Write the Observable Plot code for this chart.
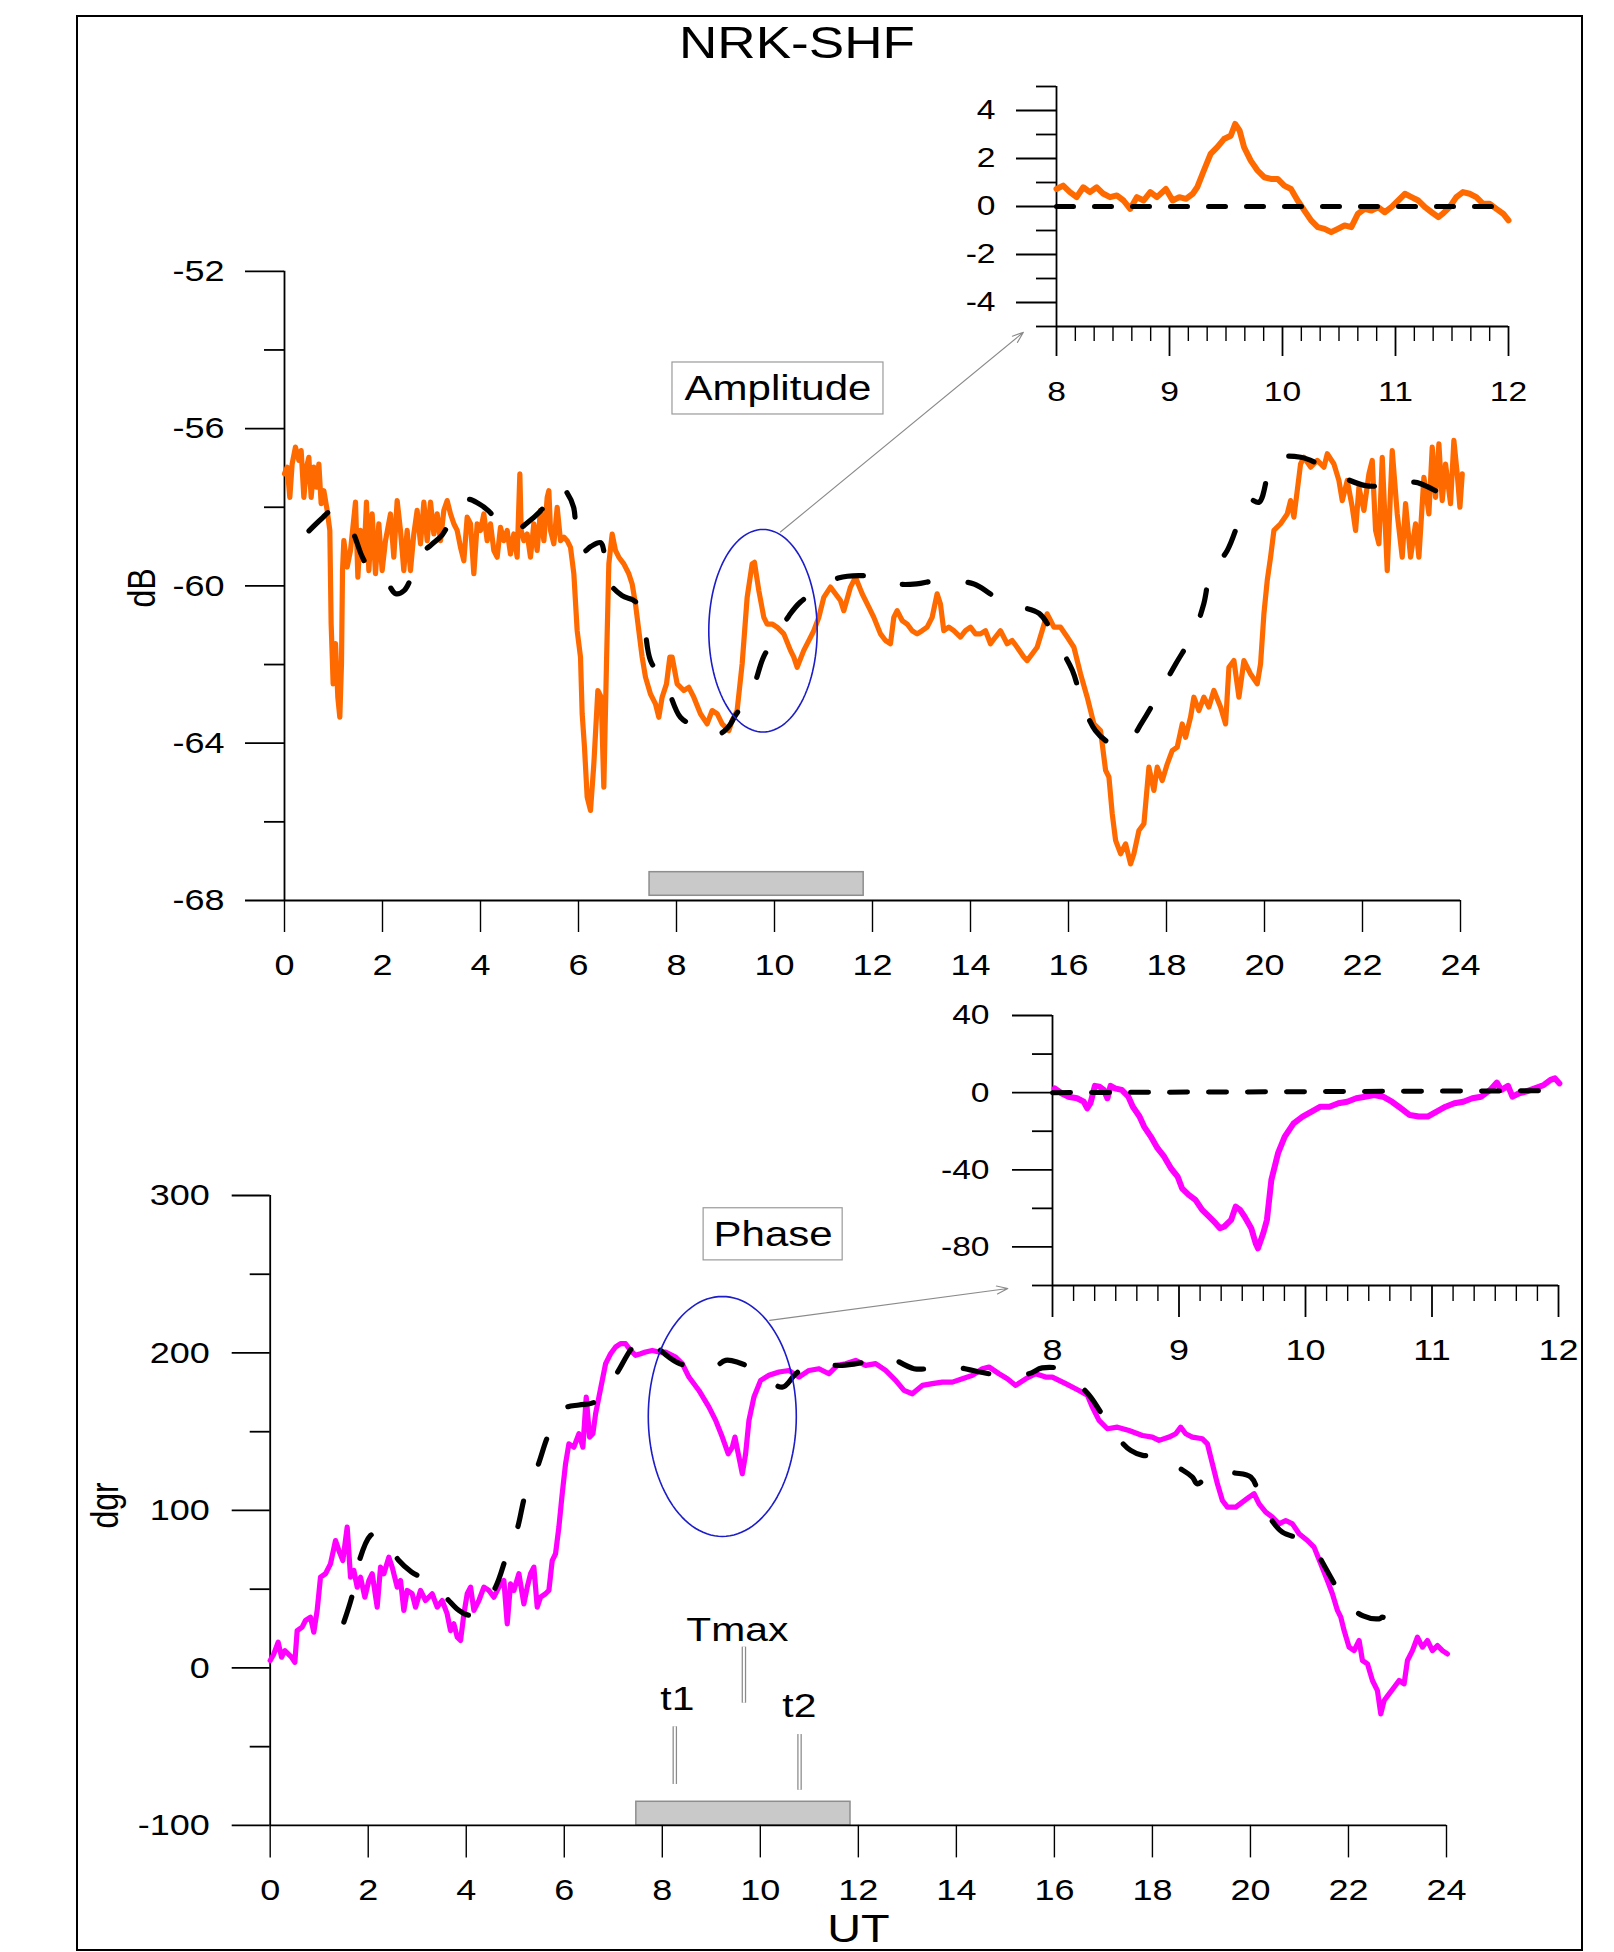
<!DOCTYPE html>
<html>
<head>
<meta charset="utf-8">
<script src="https://cdn.jsdelivr.net/npm/d3@7"></script>
<script src="https://cdn.jsdelivr.net/npm/@observablehq/plot@0.6"></script>
<style>
html, body { margin: 0; padding: 0; background: #fff; }
#fig { position: relative; width: 1614px; height: 1952px; overflow: hidden; background: #fff;
       font-family: "Liberation Sans", Arial, Helvetica, sans-serif; }
#frame { position: absolute; left: 76px; top: 15px; width: 1507px; height: 1936px;
         border: 2px solid #000; box-sizing: border-box; }
#title { position: absolute; left: 397px; top: 19.6px; width: 800px; text-align: center;
         font-size: 45px; line-height: 45px; color: #000; transform: scaleX(1.18); transform-origin: 50% 50%; }
</style>
</head>
<body>
<div id="fig">
  <div id="frame"></div>
  <div id="title">NRK-SHF</div>
</div>
<script>
// ---------------- tick values ----------------
const hourTicks = [0, 2, 4, 6, 8, 10, 12, 14, 16, 18, 20, 22, 24];
const ampTicksMajor = [-68, -64, -60, -56, -52];
const ampTicksMinor = [-66, -62, -58, -54];
const phaseTicksMajor = [-100, 0, 100, 200, 300];
const phaseTicksMinor = [-50, 50, 150, 250];
const insetHourTicks = [8, 9, 10, 11, 12];
const insetMinuteTicks = d3.range(0, 25).filter(i => i % 6 !== 0).map(i => 8 + i / 6);
const ampInsetYMajor = [-4, -2, 0, 2, 4];
const ampInsetYMinor = [-5, -3, -1, 1, 3, 5];
const phaseInsetYMajor = [-80, -40, 0, 40];
const phaseInsetYMinor = [-100, -60, -20, 20];

// ---------------- amplitude (dB) vs UT (h) ----------------
const ampObs = [
[0.000,-57.15],[0.054,-56.98],[0.109,-57.75],[0.156,-56.90],[0.224,-56.47],[0.293,-56.81],[0.340,-56.56],[0.395,-57.75],
[0.449,-56.98],[0.497,-56.73],[0.544,-57.75],[0.599,-56.98],[0.653,-57.49],[0.701,-56.90],[0.748,-57.91],[0.803,-57.58],
[0.871,-58.08],[0.925,-58.59],[0.952,-60.97],[0.993,-62.49],[1.041,-61.47],[1.088,-62.83],[1.129,-63.34],[1.163,-61.98],
[1.184,-59.61],[1.211,-58.85],[1.279,-59.52],[1.347,-59.10],[1.449,-57.87],[1.497,-59.78],[1.551,-58.59],[1.619,-59.36],
[1.673,-57.87],[1.721,-59.61],[1.789,-58.17],[1.857,-59.69],[1.925,-58.42],[1.993,-59.61],[2.061,-58.85],[2.163,-58.17],
[2.231,-59.27],[2.299,-57.83],[2.367,-58.59],[2.435,-59.61],[2.503,-58.59],[2.571,-59.61],[2.639,-58.68],[2.707,-58.08],
[2.776,-58.93],[2.844,-57.87],[2.912,-58.85],[2.980,-57.87],[3.048,-58.68],[3.116,-58.17],[3.184,-58.85],[3.252,-58.08],
[3.320,-57.83],[3.388,-58.17],[3.456,-58.42],[3.524,-58.59],[3.592,-59.02],[3.660,-59.36],[3.728,-58.25],[3.796,-58.42],
[3.864,-59.69],[3.932,-58.42],[4.000,-58.59],[4.068,-58.17],[4.136,-58.85],[4.204,-58.42],[4.272,-59.10],[4.340,-59.27],
[4.408,-58.51],[4.476,-58.85],[4.544,-58.59],[4.612,-59.19],[4.680,-58.68],[4.748,-59.27],[4.803,-57.15],[4.830,-58.59],
[4.884,-58.85],[4.952,-58.68],[5.020,-59.27],[5.088,-58.42],[5.156,-59.10],[5.224,-58.08],[5.293,-58.85],[5.361,-57.75],
[5.395,-57.58],[5.429,-58.59],[5.497,-58.93],[5.565,-58.00],[5.633,-58.85],[5.701,-58.76],[5.769,-58.85],[5.837,-59.02],
[5.905,-59.69],[5.973,-61.14],[6.041,-61.81],[6.075,-63.25],[6.122,-64.10],[6.177,-65.37],[6.245,-65.71],[6.313,-64.53],
[6.395,-62.66],[6.463,-62.83],[6.517,-65.12],[6.571,-61.98],[6.619,-59.44],[6.687,-58.68],[6.755,-59.10],[6.823,-59.27],
[6.925,-59.44],[7.027,-59.69],[7.095,-59.95],[7.163,-60.46],[7.231,-61.14],[7.299,-61.81],[7.367,-62.32],[7.469,-62.75],
[7.571,-63.00],[7.639,-63.34],[7.707,-62.83],[7.796,-62.49],[7.864,-61.81],[7.911,-61.81],[8.013,-62.49],[8.149,-62.66],
[8.251,-62.58],[8.353,-62.83],[8.489,-63.25],[8.625,-63.51],[8.727,-63.17],[8.829,-63.25],[8.931,-63.51],[9.068,-63.68],
[9.136,-63.42],[9.237,-63.17],[9.340,-61.98],[9.442,-60.29],[9.544,-59.44],[9.591,-59.40],[9.680,-60.12],[9.782,-60.80],
[9.850,-60.97],[9.952,-60.97],[10.054,-61.05],[10.190,-61.22],[10.326,-61.64],[10.394,-61.81],[10.462,-62.07],[10.598,-61.64],
[10.700,-61.39],[10.802,-61.14],[10.904,-60.80],[11.006,-60.29],[11.142,-60.03],[11.244,-60.20],[11.346,-60.37],[11.414,-60.63],
[11.551,-60.03],[11.653,-59.78],[11.789,-60.20],[11.925,-60.54],[12.027,-60.80],[12.163,-61.22],[12.265,-61.39],[12.367,-61.47],
[12.435,-60.80],[12.503,-60.63],[12.605,-60.88],[12.707,-60.97],[12.809,-61.14],[12.911,-61.22],[13.013,-61.14],[13.115,-61.05],
[13.217,-60.80],[13.319,-60.20],[13.387,-60.46],[13.455,-61.14],[13.557,-61.05],[13.659,-61.14],[13.795,-61.30],[13.897,-61.14],
[13.999,-61.05],[14.102,-61.22],[14.204,-61.22],[14.306,-61.14],[14.408,-61.47],[14.510,-61.30],[14.612,-61.14],[14.748,-61.47],
[14.850,-61.39],[14.952,-61.56],[15.088,-61.81],[15.156,-61.90],[15.258,-61.73],[15.360,-61.56],[15.462,-61.14],[15.564,-60.71],
[15.634,-60.88],[15.702,-61.05],[15.838,-61.05],[15.974,-61.30],[16.110,-61.56],[16.246,-62.24],[16.382,-62.83],[16.518,-63.51],
[16.654,-63.68],[16.757,-64.69],[16.825,-64.86],[16.893,-65.80],[16.961,-66.47],[17.063,-66.81],[17.165,-66.56],[17.267,-67.07],
[17.335,-66.81],[17.437,-66.22],[17.539,-66.05],[17.641,-64.61],[17.743,-65.20],[17.811,-64.61],[17.913,-64.95],[18.015,-64.53],
[18.117,-64.19],[18.219,-64.10],[18.321,-63.51],[18.389,-63.85],[18.491,-63.34],[18.559,-62.83],[18.661,-63.17],[18.763,-62.83],
[18.865,-63.08],[18.967,-62.66],[19.103,-63.08],[19.206,-63.51],[19.274,-62.07],[19.376,-61.90],[19.478,-62.83],[19.580,-61.90],
[19.716,-62.24],[19.852,-62.49],[19.920,-61.98],[19.988,-60.71],[20.056,-59.86],[20.124,-59.27],[20.192,-58.59],[20.328,-58.42],
[20.464,-58.17],[20.532,-57.83],[20.600,-58.25],[20.668,-57.58],[20.736,-56.90],[20.804,-56.73],[20.941,-56.98],[21.077,-56.81],
[21.213,-56.98],[21.281,-56.64],[21.417,-56.90],[21.519,-57.32],[21.587,-57.83],[21.689,-57.32],[21.791,-58.00],[21.859,-58.59],
[21.927,-57.49],[22.029,-58.08],[22.131,-57.15],[22.199,-56.81],[22.267,-58.59],[22.335,-58.93],[22.403,-56.73],[22.505,-59.61],
[22.607,-56.56],[22.709,-58.17],[22.811,-59.27],[22.879,-57.91],[22.981,-59.27],[23.083,-58.42],[23.151,-59.27],[23.253,-57.24],
[23.355,-58.17],[23.423,-56.47],[23.491,-57.75],[23.559,-56.39],[23.627,-57.83],[23.695,-56.90],[23.797,-57.91],[23.865,-56.30],
[23.933,-57.15],[23.988,-58.00],[24.036,-57.15]
];
const ampRef = [
[0.50,-58.60],[0.75,-58.30],[0.94,-58.10],[1.10,-58.15],[1.38,-58.60],[1.59,-59.27],[1.80,-59.70],[2.06,-59.86],[2.27,-60.20],
[2.44,-60.12],[2.60,-59.75],[2.78,-59.20],[3.00,-58.95],[3.22,-58.70],[3.45,-58.20],[3.63,-57.90],[3.75,-57.80],[3.95,-57.90],
[4.17,-58.10],[4.45,-58.50],[4.71,-58.60],[4.95,-58.40],[5.22,-58.10],[5.45,-57.75],[5.63,-57.45],[5.75,-57.60],[5.90,-58.00],
[5.95,-58.70],[6.00,-59.05],[6.12,-59.12],[6.25,-59.00],[6.45,-58.90],[6.55,-59.40],[6.62,-59.90],[6.89,-60.25],[7.16,-60.40],
[7.33,-60.95],[7.47,-61.90],[7.78,-62.50],[8.08,-63.34],[8.35,-63.55],[8.63,-63.72],[8.85,-63.78],[9.05,-63.60],[9.20,-63.30],
[9.54,-62.66],[9.78,-61.80],[10.09,-61.18],[10.30,-60.75],[10.53,-60.41],[11.07,-59.95],[11.30,-59.80],[11.82,-59.74],[12.10,-59.80],
[12.50,-59.95],[12.90,-59.95],[13.35,-59.86],[14.07,-59.95],[14.40,-60.20],[14.75,-60.46],[15.40,-60.70],[15.74,-61.39],[16.08,-62.15],
[16.28,-62.96],[16.55,-63.68],[16.85,-64.00],[17.16,-64.06],[17.50,-63.47],[17.88,-62.66],[18.19,-61.98],[18.56,-61.18],[18.76,-60.46],
[18.90,-59.69],[19.24,-59.10],[19.51,-58.25],[19.68,-57.80],[19.89,-57.87],[20.12,-56.98],[20.33,-56.73],[20.74,-56.73],[21.10,-56.90],
[21.45,-57.15],[22.06,-57.45],[22.50,-57.45],[22.85,-57.45],[23.05,-57.36],[23.49,-57.58]
];
const ampInsetObs = [
[8.000,0.73],[8.059,0.87],[8.119,0.60],[8.178,0.39],[8.237,0.80],[8.296,0.60],[8.356,0.80],[8.415,0.53],[8.474,0.39],[8.534,0.46],
[8.593,0.25],[8.652,-0.10],[8.711,0.39],[8.771,0.25],[8.830,0.60],[8.889,0.39],[8.968,0.73],[9.028,0.25],[9.087,0.39],[9.146,0.32],
[9.206,0.53],[9.245,0.80],[9.304,1.50],[9.364,2.19],[9.423,2.47],[9.482,2.81],[9.542,2.95],[9.581,3.44],[9.621,3.16],[9.660,2.47],
[9.719,1.91],[9.779,1.50],[9.838,1.22],[9.897,1.15],[9.957,1.15],[10.016,0.87],[10.075,0.73],[10.134,0.25],[10.194,-0.17],[10.253,-0.58],
[10.312,-0.86],[10.372,-0.93],[10.431,-1.07],[10.490,-0.93],[10.549,-0.79],[10.609,-0.86],[10.668,-0.30],[10.727,-0.10],[10.787,-0.17],
[10.846,-0.03],[10.905,-0.24],[10.964,-0.03],[11.024,0.25],[11.083,0.53],[11.142,0.39],[11.202,0.25],[11.261,-0.03],[11.320,-0.24],
[11.379,-0.44],[11.419,-0.30],[11.478,-0.03],[11.538,0.39],[11.597,0.60],[11.656,0.53],[11.715,0.39],[11.775,0.11],[11.834,0.11],
[11.893,-0.10],[11.953,-0.30],[12.000,-0.58]
];
const ampInsetRef = [[8.0, 0], [12.0, 0]];

// ---------------- phase (dgr) vs UT (h) ----------------
const phaseObs = [
[0.000,4.7],[0.074,8.9],[0.163,16.3],[0.231,6.8],[0.299,11.0],[0.367,8.9],[0.435,6.8],[0.503,3.6],[0.550,23.7],[0.652,25.9],
[0.720,30.1],[0.822,32.2],[0.890,22.7],[0.958,36.5],[1.026,57.6],[1.128,59.8],[1.230,66.1],[1.333,80.9],[1.401,74.6],[1.482,68.2],
[1.571,89.4],[1.639,57.6],[1.707,61.9],[1.775,51.3],[1.843,57.6],[1.931,44.9],[2.013,55.5],[2.081,59.8],[2.183,38.6],[2.251,64.0],
[2.319,59.8],[2.421,70.3],[2.489,64.0],[2.591,51.3],[2.659,55.5],[2.727,36.5],[2.795,49.2],[2.897,47.1],[2.965,38.6],[3.067,49.2],
[3.169,42.8],[3.305,47.1],[3.407,38.6],[3.509,42.8],[3.611,34.3],[3.679,23.7],[3.747,28.0],[3.816,19.5],[3.884,17.4],[3.952,34.3],
[4.020,47.1],[4.088,51.3],[4.156,36.5],[4.258,42.8],[4.360,51.3],[4.462,49.2],[4.564,44.9],[4.666,51.3],[4.768,55.5],[4.836,28.0],
[4.904,53.4],[4.972,49.2],[5.074,59.8],[5.176,40.7],[5.244,51.3],[5.312,59.8],[5.380,64.0],[5.448,38.6],[5.516,44.9],[5.618,47.1],
[5.686,49.2],[5.754,68.2],[5.822,72.5],[5.890,89.4],[5.958,110.6],[6.026,129.6],[6.094,142.3],[6.196,140.2],[6.299,148.7],[6.380,140.2],
[6.448,172.0],[6.516,146.6],[6.584,148.7],[6.639,161.4],[6.707,172.0],[6.775,182.6],[6.843,193.2],[6.945,199.5],[7.047,203.8],[7.149,205.9],
[7.251,205.9],[7.353,201.6],[7.455,198.5],[7.557,199.5],[7.659,200.6],[7.795,201.6],[7.932,200.6],[8.067,200.6],[8.271,197.4],[8.407,193.2],
[8.543,184.7],[8.747,176.2],[8.952,165.6],[9.088,157.2],[9.224,146.6],[9.346,136.0],[9.428,140.2],[9.482,146.6],[9.550,136.0],[9.632,123.3],
[9.700,136.0],[9.768,157.2],[9.870,172.0],[10.006,182.6],[10.176,185.8],[10.380,187.9],[10.584,188.9],[10.788,184.7],[10.992,188.9],
[11.196,190.0],[11.401,186.8],[11.571,192.1],[11.741,193.2],[11.945,195.3],[12.149,192.1],[12.353,193.2],[12.557,188.9],[12.761,182.6],
[12.931,176.2],[13.101,174.1],[13.305,179.4],[13.509,180.5],[13.713,181.5],[13.918,181.5],[14.122,183.6],[14.326,185.8],[14.530,190.0],
[14.666,191.1],[14.870,186.8],[15.040,183.6],[15.210,179.4],[15.414,183.6],[15.618,186.8],[15.822,184.7],[15.958,184.7],[16.230,180.5],
[16.502,176.2],[16.673,173.1],[16.775,165.6],[16.911,157.2],[17.081,151.9],[17.285,152.9],[17.523,150.8],[17.795,147.6],[17.999,146.6],
[18.135,144.5],[18.339,146.6],[18.475,148.7],[18.577,152.9],[18.679,148.7],[18.815,146.6],[19.020,145.5],[19.122,142.3],[19.224,129.6],
[19.326,116.9],[19.428,106.3],[19.530,102.1],[19.700,102.1],[19.836,105.3],[19.972,108.5],[20.074,110.6],[20.176,104.2],[20.312,98.9],
[20.448,95.8],[20.584,91.5],[20.720,93.6],[20.856,91.5],[20.992,85.2],[21.162,80.9],[21.298,76.7],[21.434,66.1],[21.570,55.5],[21.672,47.1],
[21.775,36.5],[21.843,32.2],[21.911,23.7],[22.013,13.2],[22.115,11.0],[22.217,17.4],[22.285,4.7],[22.387,2.6],[22.489,-8.0],[22.591,-14.4],
[22.659,-29.2],[22.727,-20.7],[22.829,-16.5],[22.931,-12.3],[23.033,-8.0],[23.135,-10.1],[23.203,4.7],[23.305,11.0],[23.407,19.5],
[23.509,13.2],[23.611,17.4],[23.713,11.0],[23.815,14.2],[23.917,11.0],[24.019,8.9]
];
const phaseRef = [
[1.503,29.1],[1.673,46.0],[1.809,67.2],[2.047,84.1],[2.200,86.0],[2.353,80.9],[2.625,68.2],[2.880,61.0],[3.135,56.6],[3.350,52.0],
[3.611,43.9],[3.850,36.5],[4.050,33.5],[4.258,35.4],[4.598,51.3],[4.836,72.5],[5.040,88.3],[5.210,110.6],[5.450,127.5],[5.686,148.7],
[5.990,164.6],[6.300,167.0],[6.550,168.0],[6.740,171.0],[7.047,185.8],[7.455,205.9],[7.700,210.0],[7.965,201.6],[8.300,194.0],
[8.645,191.1],[9.020,190.0],[9.290,195.3],[9.550,194.0],[9.904,188.9],[10.448,178.3],[10.700,186.0],[10.958,192.1],[11.300,192.5],
[11.673,192.1],[12.100,194.0],[12.489,196.3],[12.600,197.5],[13.135,190.0],[13.550,190.5],[13.950,191.1],[14.666,186.8],[15.100,186.0],
[15.480,186.8],[15.750,190.5],[16.160,189.5],[16.500,180.0],[16.740,172.0],[17.050,157.2],[17.300,146.0],[17.556,138.1],[17.800,135.0],
[18.170,135.0],[18.500,128.0],[18.815,121.2],[18.917,116.9],[19.290,126.5],[19.650,124.0],[20.006,121.2],[20.244,104.2],[20.450,93.0],
[20.652,86.2],[21.265,78.8],[21.450,68.0],[21.638,57.6],[21.944,41.7],[22.300,33.0],[22.625,31.2],[22.700,32.2],[23.090,21.6]
];
const phaseInsetObs = [
[8.018,2.2],[8.071,-0.3],[8.124,-2.1],[8.194,-2.9],[8.247,-4.7],[8.275,-8.1],[8.300,-5.5],[8.335,3.5],[8.371,3.1],[8.406,1.4],
[8.434,-2.9],[8.459,3.5],[8.494,2.2],[8.547,1.4],[8.600,-2.1],[8.635,-7.3],[8.688,-12.4],[8.724,-17.6],[8.777,-22.8],[8.830,-28.8],
[8.883,-33.2],[8.936,-39.2],[8.989,-43.5],[9.024,-49.6],[9.077,-53.0],[9.130,-55.6],[9.183,-60.8],[9.236,-64.2],[9.289,-67.7],
[9.324,-70.3],[9.359,-69.4],[9.412,-66.0],[9.448,-59.1],[9.483,-60.8],[9.518,-64.2],[9.571,-70.3],[9.606,-78.1],[9.624,-80.7],
[9.666,-72.9],[9.695,-66.0],[9.730,-45.3],[9.783,-31.4],[9.836,-22.8],[9.906,-15.9],[9.977,-12.4],[10.048,-9.8],[10.118,-7.3],
[10.189,-7.3],[10.260,-5.5],[10.330,-4.7],[10.401,-2.9],[10.471,-2.1],[10.542,-1.2],[10.613,-2.1],[10.683,-4.7],[10.754,-8.1],
[10.824,-11.6],[10.895,-12.4],[10.966,-12.4],[11.036,-9.8],[11.107,-7.3],[11.177,-5.5],[11.248,-4.7],[11.319,-2.9],[11.389,-2.1],
[11.460,1.4],[11.513,5.2],[11.548,1.4],[11.601,3.5],[11.636,-2.1],[11.689,-0.3],[11.742,0.5],[11.813,2.2],[11.884,4.0],[11.937,6.6],
[11.972,7.4],[12.007,4.8]
];
const phaseInsetRef = [[8.0, 0], [11.9, 1]];

// ---------------- annotations (data units) ----------------
const ampBar = [{x1: 7.45, x2: 11.82, y1: -67.88, y2: -67.28}];
const phaseBar = [{x1: 7.47, x2: 11.84, y1: -100, y2: -85}];
const ampEllipse = {cx: 9.765, cy: -61.14, rx: 1.106, ry: 2.576};
const phaseEllipse = {cx: 9.224, cy: 159.7, rx: 1.51, ry: 76.2};
const ampArrow = [{x1: 10.12, y1: -58.63, x2: 15.08, y2: -53.55}];
const phaseArrow = [{x1: 10.19, y1: 220.7, x2: 15.05, y2: 240.9}];
const ampLabel = [{text: "Amplitude", x: 10.071, y: -54.98, x1: 7.918, x2: 12.224, y1: -55.641, y2: -54.319}];
const phaseLabel = [{text: "Phase", x: 10.261, y: 275.3, x1: 8.843, x2: 11.680, y1: 258.8, y2: 291.9}];
const timeMarks = [
  {name: "t1", x: 8.255, y1: -74.0, y2: -37.4, lx: 8.306, ly: -19.7},
  {name: "Tmax", x: 9.665, y1: -22.4, y2: 13.2, lx: 9.531, ly: 24.3},
  {name: "t2", x: 10.800, y1: -77.7, y2: -42.3, lx: 10.796, ly: -24.0}
];

// ---------------- styling ----------------
const FONT = '"Liberation Sans", Arial, Helvetica, sans-serif';
const ORANGE = "#ff6a00";
const MAGENTA = "#ff00ff";
const BLUE = "#1c1cc8";
const STRETCH = 1.2;
const AX = 1.8;
const X = d => d[0], Y = d => d[1];
const fmt = d => String(d);

function ellipsePts(e) {
  return d3.range(0, 361, 3).map(a => [e.cx + e.rx * Math.cos(a * Math.PI / 180), e.cy + e.ry * Math.sin(a * Math.PI / 180)]);
}
const baseStyle = {background: "transparent", overflow: "visible", fontFamily: FONT, color: "#000"};

const fig = document.getElementById("fig");
function mount(svg, left, top) {
  svg.style.position = "absolute";
  svg.style.left = left + "px";
  svg.style.top = top + "px";
  svg.style.maxWidth = "none";
  fig.appendChild(svg);
  svg.querySelectorAll("text").forEach(t => {
    const tr = t.getAttribute("transform") || "";
    if (tr.includes("rotate")) {
      t.setAttribute("transform", tr + ` scale(1,${STRETCH})`);
      return;
    }
    const len = t.getComputedTextLength();
    if (len > 0) {
      t.setAttribute("textLength", (len * STRETCH).toFixed(2));
      t.setAttribute("lengthAdjust", "spacingAndGlyphs");
    }
  });
}

// ---------------- main amplitude ----------------
const ampMain = Plot.plot({
  width: 1614, height: 810,
  marginLeft: 284, marginRight: 154, marginTop: 70.8, marginBottom: 110,
  x: {domain: [0, 24], axis: null},
  y: {domain: [-68, -52], axis: null},
  style: baseStyle,
  marks: [
    Plot.rect(ampBar, {x1: "x1", x2: "x2", y1: "y1", y2: "y2", fill: "#c9c9c9", stroke: "#8e8e8e", strokeWidth: 1.5}),
    Plot.ruleX([0], {stroke: "#000", strokeWidth: AX}),
    Plot.ruleY([-68], {stroke: "#000", strokeWidth: AX}),
    Plot.axisY(ampTicksMajor, {tickSize: 39, tickPadding: 21, fontSize: 30, tickFormat: fmt, strokeWidth: AX, label: null}),
    Plot.axisY(ampTicksMinor, {tickSize: 20, tickFormat: () => "", strokeWidth: AX, label: null}),
    Plot.axisX(hourTicks, {tickSize: 32, tickPadding: 21, fontSize: 30, tickFormat: fmt, strokeWidth: 1.4, label: null}),
    Plot.line(ampObs, {x: X, y: Y, stroke: ORANGE, strokeWidth: 5.2, strokeLinejoin: "round"}),
    Plot.line(ampRef, {x: X, y: Y, stroke: "#000", strokeWidth: 5.2, strokeDasharray: "26,40", strokeLinecap: "round", curve: "catmull-rom"}),
    Plot.line(ellipsePts(ampEllipse), {x: X, y: Y, stroke: BLUE, strokeWidth: 1.6}),
    Plot.arrow(ampArrow, {x1: "x1", y1: "y1", x2: "x2", y2: "y2", stroke: "#8a8a8a", strokeWidth: 1.1, headLength: 16, headAngle: 40}),
    Plot.rect(ampLabel, {x1: "x1", x2: "x2", y1: "y1", y2: "y2", fill: "#fff", stroke: "#9a9a9a", strokeWidth: 1.2}),
    Plot.text(ampLabel, {x: "x", y: "y", text: "text", fontSize: 35, fill: "#000"}),
    Plot.text(["dB"], {frameAnchor: "left", textAnchor: "middle", lineAnchor: "middle", dx: -142, dy: 2, rotate: -90, fontSize: 32, fill: "#000"})
  ]
});
mount(ampMain, 0, 200);

// ---------------- amplitude inset ----------------
const ampInset = Plot.plot({
  width: 600, height: 360,
  marginLeft: 96, marginRight: 52, marginTop: 26, marginBottom: 94,
  x: {domain: [8, 12], axis: null},
  y: {domain: [-5, 5], axis: null},
  style: baseStyle,
  marks: [
    Plot.ruleX([8], {stroke: "#000", strokeWidth: AX}),
    Plot.ruleY([-5], {stroke: "#000", strokeWidth: AX}),
    Plot.axisY(ampInsetYMajor, {tickSize: 40, tickPadding: 21, fontSize: 28, tickFormat: fmt, strokeWidth: AX, label: null}),
    Plot.axisY(ampInsetYMinor, {tickSize: 20, tickFormat: () => "", strokeWidth: AX, label: null}),
    Plot.axisX(insetHourTicks, {tickSize: 30, tickPadding: 25, fontSize: 28, tickFormat: fmt, strokeWidth: AX, label: null}),
    Plot.axisX(insetMinuteTicks, {tickSize: 15, tickFormat: () => "", strokeWidth: 1.4, label: null}),
    Plot.line(ampInsetObs, {x: X, y: Y, stroke: ORANGE, strokeWidth: 6, strokeLinejoin: "round"}),
    Plot.line(ampInsetRef, {x: X, y: Y, stroke: "#000", strokeWidth: 5, strokeDasharray: "17,21"})
  ]
});
mount(ampInset, 960, 60);

// ---------------- main phase ----------------
const phaseMain = Plot.plot({
  width: 1614, height: 802,
  marginLeft: 269.7, marginRight: 168, marginTop: 45, marginBottom: 127.1,
  x: {domain: [0, 24], axis: null},
  y: {domain: [-100, 300], axis: null},
  style: baseStyle,
  marks: [
    Plot.rect(phaseBar, {x1: "x1", x2: "x2", y1: "y1", y2: "y2", fill: "#c9c9c9", stroke: "#8e8e8e", strokeWidth: 1.5}),
    Plot.ruleX([0], {stroke: "#000", strokeWidth: AX}),
    Plot.ruleY([-100], {stroke: "#000", strokeWidth: AX}),
    Plot.axisY(phaseTicksMajor, {tickSize: 38, tickPadding: 22.5, fontSize: 30, tickFormat: fmt, strokeWidth: AX, label: null}),
    Plot.axisY(phaseTicksMinor, {tickSize: 20, tickFormat: () => "", strokeWidth: AX, label: null}),
    Plot.axisX(hourTicks, {tickSize: 32.5, tickPadding: 21, fontSize: 30, tickFormat: fmt, strokeWidth: 1.4, label: null}),
    Plot.ruleX(timeMarks, {x: "x", y1: "y1", y2: "y2", stroke: "#8a8a8a", strokeWidth: 4.5}),
    Plot.ruleX(timeMarks, {x: "x", y1: "y1", y2: "y2", stroke: "#fff", strokeWidth: 2}),
    Plot.text(timeMarks, {x: "lx", y: "ly", text: "name", fontSize: 34, fill: "#000"}),
    Plot.line(phaseObs, {x: X, y: Y, stroke: MAGENTA, strokeWidth: 5.2, strokeLinejoin: "round"}),
    Plot.line(phaseRef, {x: X, y: Y, stroke: "#000", strokeWidth: 5.2, strokeDasharray: "26,40", strokeLinecap: "round", curve: "catmull-rom"}),
    Plot.line(ellipsePts(phaseEllipse), {x: X, y: Y, stroke: BLUE, strokeWidth: 1.6}),
    Plot.arrow(phaseArrow, {x1: "x1", y1: "y1", x2: "x2", y2: "y2", stroke: "#8a8a8a", strokeWidth: 1.1, headLength: 16, headAngle: 40}),
    Plot.rect(phaseLabel, {x1: "x1", x2: "x2", y1: "y1", y2: "y2", fill: "#fff", stroke: "#9a9a9a", strokeWidth: 1.2}),
    Plot.text(phaseLabel, {x: "x", y: "y", text: "text", fontSize: 35, fill: "#000"}),
    Plot.text(["dgr"], {frameAnchor: "left", textAnchor: "middle", lineAnchor: "middle", dx: -164, dy: -5, rotate: -90, fontSize: 32, fill: "#000"}),
    Plot.text(["UT"], {frameAnchor: "bottom", lineAnchor: "middle", dy: 104, fontSize: 39, fill: "#000"})
  ]
});
mount(phaseMain, 0, 1150);

// ---------------- phase inset ----------------
const phaseInset = Plot.plot({
  width: 640, height: 400,
  marginLeft: 92, marginRight: 42, marginTop: 35, marginBottom: 95,
  x: {domain: [8, 12], axis: null},
  y: {domain: [-100, 40], axis: null},
  style: baseStyle,
  marks: [
    Plot.ruleX([8], {stroke: "#000", strokeWidth: AX}),
    Plot.ruleY([-100], {stroke: "#000", strokeWidth: AX}),
    Plot.axisY(phaseInsetYMajor, {tickSize: 40, tickPadding: 23, fontSize: 28, tickFormat: fmt, strokeWidth: AX, label: null}),
    Plot.axisY(phaseInsetYMinor, {tickSize: 20, tickFormat: () => "", strokeWidth: AX, label: null}),
    Plot.axisX(insetHourTicks, {tickSize: 32, tickPadding: 21, fontSize: 30, tickFormat: fmt, strokeWidth: AX, label: null}),
    Plot.axisX(insetMinuteTicks, {tickSize: 16, tickFormat: () => "", strokeWidth: 1.4, label: null}),
    Plot.line(phaseInsetObs, {x: X, y: Y, stroke: MAGENTA, strokeWidth: 6, strokeLinejoin: "round"}),
    Plot.line(phaseInsetRef, {x: X, y: Y, stroke: "#000", strokeWidth: 5, strokeDasharray: "18,21"})
  ]
});
mount(phaseInset, 960, 980);
</script>
</body>
</html>
